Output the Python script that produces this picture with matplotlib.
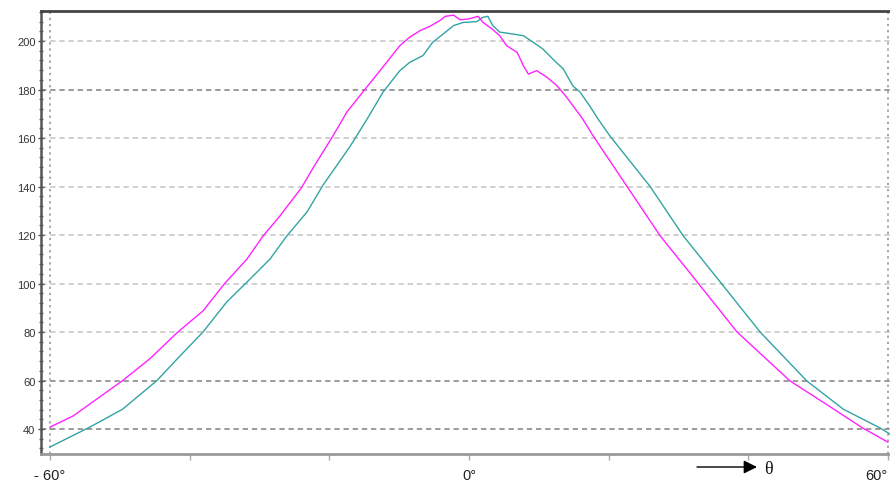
import matplotlib
matplotlib.use("Agg")
import matplotlib.pyplot as plt
from matplotlib.ticker import MultipleLocator

# ---- data ----
theta_magenta = [-60.0, -56.7, -52.9, -49.6, -45.7, -41.7, -38.1, -35.0, -31.8, -29.5,
                 -27.1, -24.0, -22.3, -19.5, -17.5, -15.2, -12.8, -9.9, -8.5, -7.0,
                 -5.6, -4.2, -3.4, -2.2, -1.3, -0.1, 1.3, 2.0, 3.3, 4.4,
                 5.4, 6.9, 7.8, 8.5, 9.7, 11.2, 12.6, 14.0, 16.3, 17.8,
                 22.6, 27.4, 32.7, 38.4, 46.0, 51.3, 56.4, 60.0]
val_magenta = [40.8, 45.4, 53.2, 60.0, 69.0, 80.0, 88.7, 100.0, 110.1, 119.6,
               127.8, 139.5, 147.8, 160.8, 170.7, 179.0, 187.6, 198.1, 201.6, 204.3,
               206.1, 208.4, 210.2, 210.7, 208.8, 209.1, 210.2, 207.7, 205.0, 202.2,
               198.1, 195.3, 189.8, 186.4, 187.8, 185.0, 181.6, 176.8, 167.8, 160.8,
               140.2, 119.6, 100.6, 80.0, 59.8, 50.0, 40.4, 34.6]

theta_teal = [-60.0, -54.3, -49.6, -44.7, -41.4, -38.1, -34.7, -31.8, -28.5, -26.1,
              -23.2, -20.9, -17.0, -14.6, -12.3, -9.9, -8.5, -6.6, -5.2, -3.7,
              -2.2, -0.8, 1.1, 2.0, 2.7, 3.4, 4.4, 6.3, 7.8, 9.2,
              10.6, 12.0, 13.5, 14.9, 15.9, 17.3, 18.5, 20.2, 25.9, 30.7,
              36.0, 41.7, 48.4, 53.6, 58.9, 60.3]
val_teal = [32.6, 40.8, 48.2, 60.0, 70.1, 80.0, 92.4, 100.6, 110.1, 119.6,
            129.5, 140.6, 156.7, 167.8, 179.0, 187.8, 191.2, 194.0, 199.5, 202.9,
            206.4, 207.7, 208.0, 209.8, 210.2, 206.4, 203.7, 202.9, 202.2, 199.5,
            196.7, 192.6, 188.5, 181.4, 179.0, 173.2, 167.8, 160.8, 140.2, 119.6,
            100.6, 80.0, 59.8, 48.2, 40.4, 37.9]

x_ticks = [-60, -40, -20, 0, 20, 40, 60]
x_tick_labels = ["- 60°", "", "", "0°", "", "", "60°"]
y_ticks = [40, 60, 80, 100, 120, 140, 160, 180, 200]
y_dark_grid = [40, 60, 180]

# ---- figure ----
fig = plt.figure(figsize=(8.9, 4.85), dpi=100)
fig.patch.set_facecolor("white")
ax = fig.add_axes([41 / 890, 1 - 455 / 485, 849 / 890, 443 / 485])

ax.set_xlim(-61.3, 60.3)
ax.set_ylim(29.7, 212.4)

# grid lines
for y in y_ticks:
    dark = y in y_dark_grid
    ax.axhline(y, color="#808080" if dark else "#c4c4c4", lw=1.1,
               dashes=(3.5, 2.5), zorder=1)
for x in (-60, 60):
    ax.axvline(x, color="#909090", lw=1.1, dashes=(1.5, 2.5), zorder=1)

ax.plot(theta_teal, val_teal, color="#33a3a3", lw=1.0, zorder=3)
ax.plot(theta_magenta, val_magenta, color="#ff22ff", lw=1.0, zorder=4)

# spines
ax.spines["right"].set_visible(False)
ax.spines["left"].set_color("#555555")
ax.spines["left"].set_linewidth(1.8)
ax.spines["top"].set_color("#444444")
ax.spines["top"].set_linewidth(2.0)
ax.spines["bottom"].set_color("#9a9a9a")
ax.spines["bottom"].set_linewidth(2.0)

# ticks
ax.set_xticks(x_ticks)
ax.set_xticklabels(x_tick_labels, fontsize=10.5, color="#222222",
                   family="Liberation Sans")
ax.tick_params(axis="x", length=4, width=1, color="#aaaaaa", pad=6)
# keep the right-most label inside the picture
ax.get_xticklabels()[-1].set_horizontalalignment("right")
ax.set_yticks(y_ticks)
ax.set_yticklabels([str(v) for v in y_ticks], fontsize=8, color="#333333",
                   family="Liberation Sans")
ax.yaxis.set_minor_locator(MultipleLocator(4))
ax.tick_params(axis="y", which="major", direction="inout", length=4,
               width=1, color="#555555", pad=2)
ax.tick_params(axis="y", which="minor", direction="inout", length=3,
               width=1, color="#666666")

# theta arrow
ax.annotate("", xy=(757 / 890, 1 - 468 / 485), xytext=(697 / 890, 1 - 468 / 485),
            xycoords="figure fraction", textcoords="figure fraction",
            arrowprops=dict(arrowstyle="-|>", mutation_scale=20, color="black",
                            lw=1.0, shrinkA=0, shrinkB=0),
            annotation_clip=False)
fig.text(768 / 890, 1 - 470 / 485, "θ", fontsize=13, family="Liberation Serif",
         ha="center", va="center", color="#111111")

fig.savefig("out.png", dpi=100, facecolor="white")
